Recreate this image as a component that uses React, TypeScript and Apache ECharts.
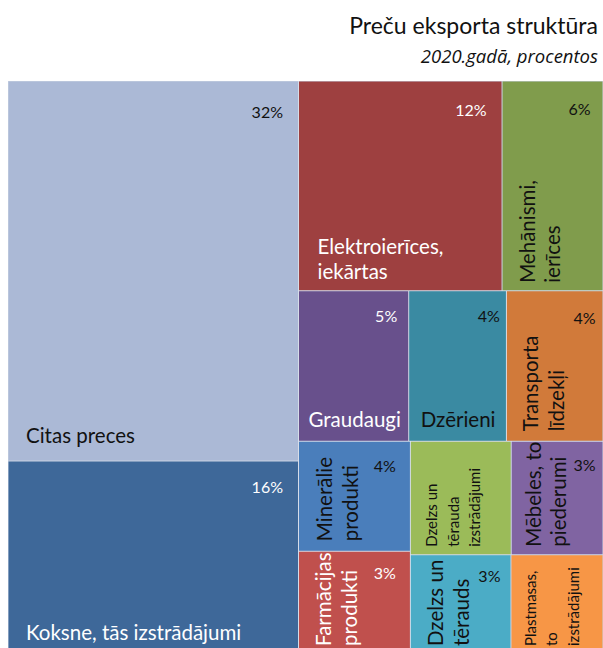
import React, { useEffect, useRef } from "react";
import * as echarts from "echarts";

// ---- data ----
const categories = [
  "Citas preces",
  "Koksne, tās izstrādājumi",
  "Elektroierīces,\niekārtas",
  "Mehānismi,\nierīces",
  "Graudaugi",
  "Dzērieni",
  "Transporta\nlīdzekļi",
  "Minerālie\nprodukti",
  "Farmācijas\nprodukti",
  "Dzelzs un\ntērauda\nizstrādājumi",
  "Mēbeles, to\npiederumi",
  "Dzelzs un\ntērauds",
  "Plastmasas,\nto\nizstrādājumi",
];
// share of exports (tile area), percent
const shares = [32.3, 16.5, 12.5, 6.2, 4.85, 4.3, 4.25, 3.6, 3.4, 3.35, 3.05, 2.95, 2.7];
// percent labels as printed on the tiles (null = not shown)
const percentLabels = [32, 16, 12, 6, 5, 4, 4, 4, 3, null, 3, 3, null];
const titleText = "Preču eksporta struktūra";
const subtitleText = "2020.gadā, procentos";

// ---- styles ----
const FONT = "Lato, 'Open Sans', sans-serif";
const tileColors = [
  "#abb9d6", "#3e6899", "#9e4040", "#809c4c", "#68508c", "#3a8aa2", "#d17a3a",
  "#4a7ebb", "#c0504d", "#9bbb59", "#8064a2", "#4bacc6", "#f79646",
];
const whiteText = [false, true, true, false, true, false, false, false, true, false, false, false, false];
const rotatedText = [false, false, false, true, false, false, true, true, true, true, true, true, true];
const smallText = [false, false, false, false, false, false, false, false, false, true, false, false, true];
// name label padding [top, right, bottom, left] (for rotated: top -> shift right, left -> shift up)
const namePad = [
  [0, 0, 13, 18], [0, 0, 10.5, 18], [0, 0, 7, 19], [12, 0, 0, 8], [0, 0, 9.5, 10], [0, 0, 9.5, 12],
  [11, 0, 0, 10], [13, 0, 0, 10], [12, 0, 0, 9], [10, 0, 0, 8], [9, 0, 0, 8], [12, 0, 0, 9], [8, 0, 0, 9],
];
// percent label padding [top, right]
const pctPad = [
  [20, 15], [15, 15], [18, 15], [17, 12], [14, 11], [14, 6], [16, 7],
  [14, 14], [11, 14], [14, 10], [13, 7], [10, 10], [14, 10],
];

const BOX = { left: 8, top: 81, width: 595, height: 574 };

function baseSeries() {
  return {
    type: "treemap",
    ...BOX,
    roam: false,
    nodeClick: false,
    silent: true,
    squareRatio: 1,
    sort: "desc",
    breadcrumb: { show: false },
    emphasis: { disabled: true },
  };
}

export default function App() {
  const ref = useRef<HTMLDivElement>(null);
  useEffect(() => {
    if (!ref.current) return;
    const chart = echarts.init(ref.current, null, { renderer: "svg" });
    const textColor = (i: number) => (whiteText[i] ? "#ffffff" : "#111111");

    const tiles = {
      ...baseSeries(),
      z: 2,
      levels: [
        { itemStyle: { borderWidth: 0, gapWidth: 0, borderColor: "#ffffff" } },
        { itemStyle: { borderWidth: 0.5, gapWidth: 0, borderColor: "#c8d2e2" } },
      ],
      label: {
        show: true,
        position: "insideTopRight",
        align: "right",
        verticalAlign: "top",
        distance: 0,
        fontFamily: FONT,
        fontSize: 16,
        lineHeight: 20,
        overflow: "none",
      },
      data: shares.map((v, i) => ({
        name: categories[i],
        value: v,
        itemStyle: { color: tileColors[i] },
        label:
          percentLabels[i] == null
            ? { show: false }
            : {
                show: true,
                formatter: `${percentLabels[i]}%`,
                color: textColor(i),
                padding: [pctPad[i][0], pctPad[i][1], 0, 0],
              },
      })),
    };

    const names = {
      ...baseSeries(),
      z: 3,
      levels: [
        {
          itemStyle: {
            borderWidth: 0,
            gapWidth: 0,
            borderColor: "rgba(0,0,0,0)",
            color: "rgba(0,0,0,0)",
          },
        },
        { itemStyle: { borderWidth: 0, gapWidth: 0, borderColor: "rgba(0,0,0,0)" } },
      ],
      label: {
        show: true,
        position: "insideBottomLeft",
        align: "left",
        distance: 0,
        fontFamily: FONT,
        overflow: "none",
      },
      data: shares.map((v, i) => ({
        name: categories[i],
        value: v,
        itemStyle: { color: "rgba(0,0,0,0)" },
        label: {
          show: true,
          formatter: "{b}",
          rotate: rotatedText[i] ? 90 : 0,
          verticalAlign: rotatedText[i] ? "top" : "bottom",
          fontSize: smallText[i] ? 15 : 20.5,
          lineHeight: smallText[i] ? 21.5 : 25.5,
          color: textColor(i),
          padding: namePad[i],
        },
      })),
    };

    chart.setOption({
      animation: false,
      backgroundColor: "#ffffff",
      series: [tiles, names],
      graphic: [
        {
          type: "text",
          x: 598,
          y: 25,
          style: {
            text: titleText,
            font: `23px ${FONT}`,
            fill: "#111111",
            align: "right",
            verticalAlign: "middle",
          },
        },
        {
          type: "text",
          x: 598,
          y: 55.5,
          style: {
            text: subtitleText,
            font: "italic 18.5px 'Open Sans', Lato, sans-serif",
            fill: "#111111",
            align: "right",
            verticalAlign: "middle",
          },
        },
      ],
    });
    return () => chart.dispose();
  }, []);

  return (
    <div
      ref={ref}
      style={{
        position: "fixed",
        left: 0,
        top: 0,
        width: 603,
        height: 648,
        overflow: "hidden",
        background: "#ffffff",
      }}
    />
  );
}
